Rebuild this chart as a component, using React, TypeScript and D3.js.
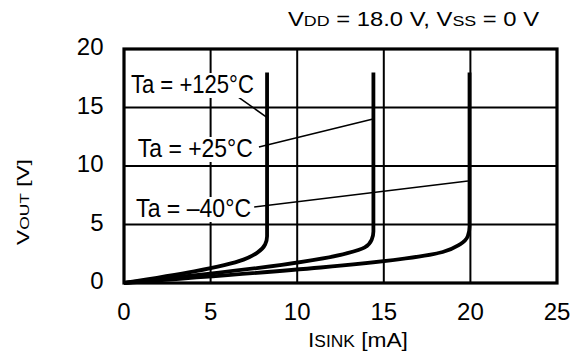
import React, { useLayoutEffect, useRef, useState } from 'react';
import * as d3 from 'd3';

// ---- data ----
const xTicks = [0, 5, 10, 15, 20, 25];
const yTicks = [0, 5, 10, 15, 20];
const seriesNames = ['Ta = +125°C', 'Ta = +25°C', 'Ta = \u201340°C'];
const curve125: [number, number][] = [[0, 0], [6.9, 2.0], [7.7, 2.6], [8.15, 3.3], [8.26, 4.0], [8.26, 18]];
const curve25: [number, number][] = [[0, 0], [12.9, 2.55], [13.9, 3.05], [14.3, 3.7], [14.4, 4.4], [14.4, 18]];
const curveM40: [number, number][] = [[0, 0], [18.4, 2.65], [19.4, 3.3], [19.85, 4.0], [19.95, 4.8], [19.95, 18]];
const labelAnchors: [number, number][] = [[0.4, 16.24], [0.8, 10.77], [0.7, 5.64]];
const leaderFrom: [number, number][] = [[6.58, 15.9], [7.79, 11.62], [7.51, 6.5]];
const leaderTo: [number, number][] = [[8.31, 14.1], [14.38, 14.02], [19.86, 8.72]];

// ---- layout / style ----
const W = 581, H = 358;
const PL = 124, PR = 557, PT = 49, PB = 283;
const labelWidths = [123, 115, 115];
const FONT = "'Liberation Sans', Arial, sans-serif";

function StretchText(props: { x: number; y: number; width: number; fontSize: number; rotate?: number; children: React.ReactNode }) {
  const ref = useRef<SVGTextElement>(null);
  const [s, setS] = useState(1);
  useLayoutEffect(() => {
    if (ref.current) {
      const w = ref.current.getBBox().width;
      if (w > 0) setS(props.width / w);
    }
  }, [props.width]);
  const rot = props.rotate ? ` rotate(${props.rotate})` : '';
  return (
    <g transform={`translate(${props.x},${props.y})${rot} scale(${s},1)`}>
      <text ref={ref} x={0} y={0} fontSize={props.fontSize}>{props.children}</text>
    </g>
  );
}

export default function App() {
  const x = d3.scaleLinear().domain([0, 25]).range([PL, PR]);
  const y = d3.scaleLinear().domain([0, 20]).range([PB, PT]);
  const line = d3.line<[number, number]>().x(d => x(d[0])).y(d => y(d[1])).curve(d3.curveMonotoneY);
  const curves = [curve125, curve25, curveM40];

  return (
    <div style={{ position: 'absolute', left: 0, top: 0 }}>
      <svg width={W} height={H} style={{ display: 'block', fontFamily: FONT }}>
        <rect x={0} y={0} width={W} height={H} fill="#fff" />
        {/* grid */}
        {xTicks.slice(1, -1).map(t => (
          <line key={'gx' + t} x1={x(t)} x2={x(t)} y1={PT} y2={PB} stroke="#000" strokeWidth={2} />
        ))}
        {yTicks.slice(1, -1).map(t => (
          <line key={'gy' + t} x1={PL} x2={PR} y1={y(t)} y2={y(t)} stroke="#000" strokeWidth={2.2} />
        ))}
        {/* curves */}
        {curves.map((c, i) => (
          <path key={'c' + i} d={line(c) || ''} fill="none" stroke="#000" strokeWidth={3.8} strokeLinejoin="round" />
        ))}
        {/* leaders */}
        {leaderFrom.map((p, i) => (
          <line key={'l' + i} x1={x(p[0])} y1={y(p[1])} x2={x(leaderTo[i][0])} y2={y(leaderTo[i][1])} stroke="#000" strokeWidth={1.6} />
        ))}
        {/* labels */}
        {seriesNames.map((s, i) => {
          const tx = x(labelAnchors[i][0]);
          const ty = y(labelAnchors[i][1]);
          return (
            <g key={'lab' + i}>
              <rect x={tx - 3} y={ty - 20} width={labelWidths[i] + 6} height={25} fill="#fff" />
              <StretchText x={tx} y={ty} width={labelWidths[i]} fontSize={25}>{s}</StretchText>
            </g>
          );
        })}
        {/* frame */}
        <rect x={PL} y={PT} width={PR - PL} height={PB - PT} fill="none" stroke="#000" strokeWidth={3.2} />
        {/* ticks */}
        {xTicks.map(t => (
          <text key={'xt' + t} x={x(t)} y={320} fontSize={24} textAnchor="middle">{t}</text>
        ))}
        {yTicks.map(t => (
          <text key={'yt' + t} x={103.5} y={y(t) + 6} fontSize={24} textAnchor="end">{t}</text>
        ))}
        {/* title */}
        <StretchText x={288} y={25.5} width={252} fontSize={20}>
          V<tspan fontSize={15}>DD</tspan> = 18.0 V, V<tspan fontSize={15}>SS</tspan> = 0 V
        </StretchText>
        {/* x label */}
        <StretchText x={308} y={346.5} width={100} fontSize={21}>
          I<tspan fontSize={16}>SINK</tspan> [mA]
        </StretchText>
        {/* y label */}
        <StretchText x={28.5} y={245} rotate={-90} width={86} fontSize={17}>
          V<tspan fontSize={13}>OUT</tspan> [V]
        </StretchText>
      </svg>
    </div>
  );
}
